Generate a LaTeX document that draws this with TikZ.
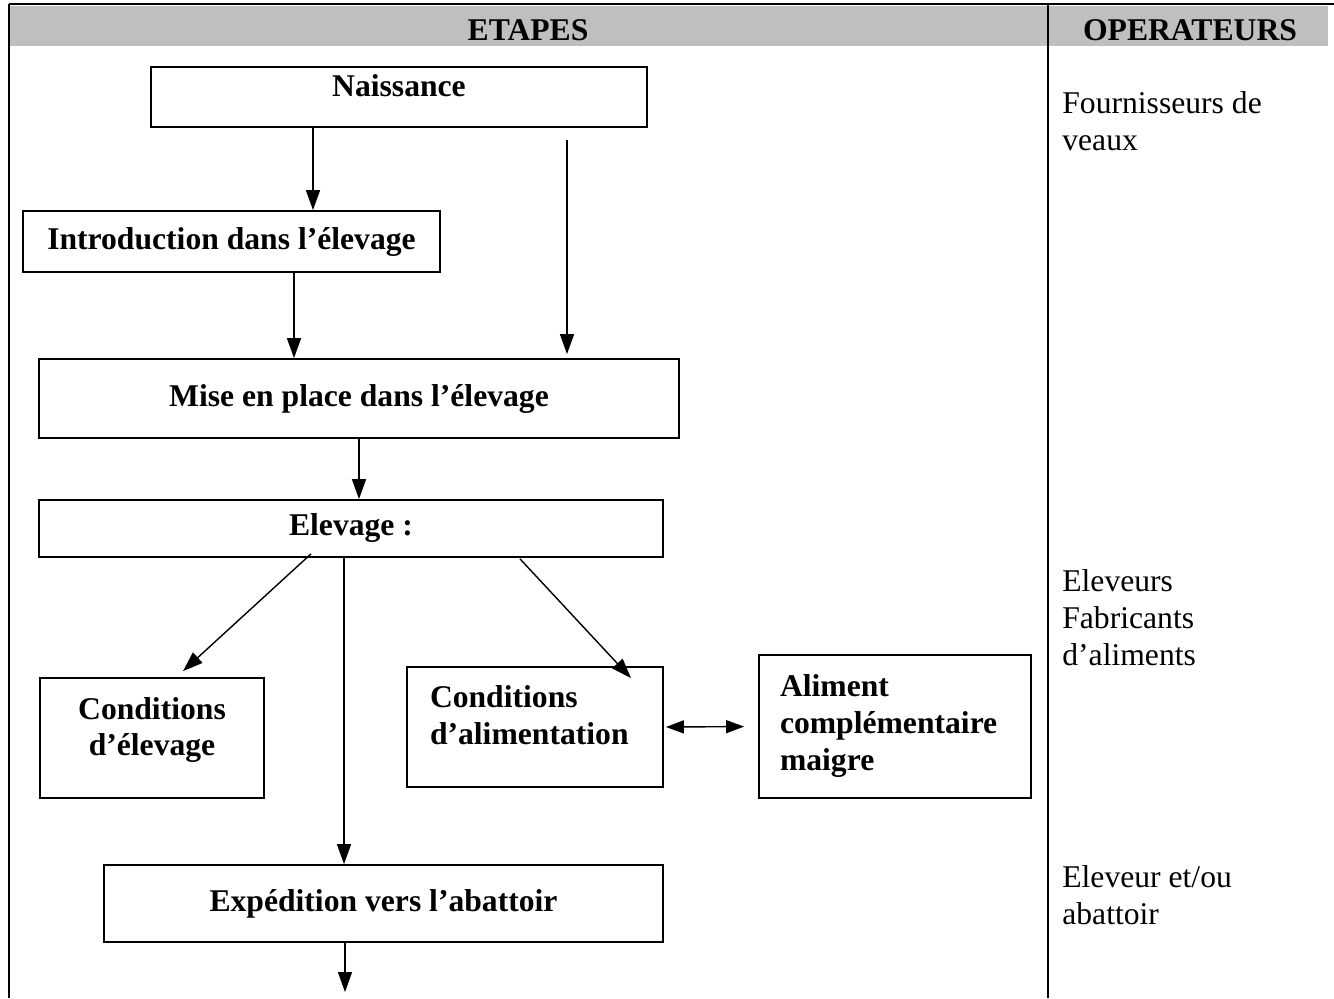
\documentclass[tikz,border=0pt]{standalone}
\usepackage{fontspec}
\setmainfont{Liberation Serif}
\usepackage{tikz}
\usetikzlibrary{arrows.meta}

\begin{document}
\begin{tikzpicture}[
    x=0.2mm, y=-0.2mm,
    font=\fontsize{18}{21}\selectfont,
    box/.style={draw, line width=1pt, align=center, inner sep=0pt, font=\fontsize{18}{21}\selectfont\bfseries},
    lbox/.style={box, align=left},
    arr/.style={-{Triangle[length=4mm,width=2.8mm]}, line width=0.8pt},
    biarr/.style={{Triangle[length=3.6mm,width=2.6mm]}-{Triangle[length=3.6mm,width=2.6mm]}, line width=0.8pt},
    oper/.style={anchor=north west, align=left, inner sep=0pt},
    head/.style={font=\fontsize{18}{21}\selectfont\bfseries},
    rule/.style={line width=1.3pt}
  ]
  \useasboundingbox (0,0) rectangle (1334,998);
  % table: header band and column rules
  \fill[gray!50] (10,6) rectangle (1328,46);
  \draw[rule] (9,4) -- (1334,4);
  \draw[rule] (9,4) -- (9,998);
  \draw[rule] (1048,4) -- (1048,998);
  \node[head] (etapes) at (528,30) {ETAPES};
  \node[head] (operat) at (1190,30) {OPERATEURS};
  % steps
  \node[box, minimum width=99.2mm, minimum height=12mm, text depth=4.4mm] (naiss) at (399,97) {Naissance};
  \node[box, minimum width=83.4mm, minimum height=12.2mm] (intro) at (231.5,241.5) {Introduction dans l'élevage};
  \node[box, minimum width=128mm, minimum height=15.8mm] (mise) at (359,398.5) {Mise en place dans l'élevage};
  \node[box, minimum width=124.8mm, minimum height=11.4mm] (elev) at (351,528.5) {Elevage :};
  \node[box, minimum width=44.8mm, minimum height=24mm, text depth=4.6mm] (celev) at (152,738) {Conditions\\d'élevage};
  \node[lbox, text width=42mm, inner xsep=4.6mm, minimum height=24mm, text depth=12.2mm] (calim) at (535,727) {Conditions\\d'alimentation};
  \node[lbox, text width=46mm, inner xsep=4.2mm, minimum height=28.6mm, text depth=16.2mm] (alim) at (895,726.5) {Aliment\\complémentaire\\maigre};
  \node[box, minimum width=111.8mm, minimum height=15.4mm] (exped) at (383.5,903.5) {Expédition vers l'abattoir};
  % operators
  \node[oper] (fourn) at (1062,91) {Fournisseurs de\\veaux};
  \node[oper] (eleveurs) at (1062,569) {Eleveurs\\Fabricants\\d'aliments};
  \node[oper] (abatt) at (1062,865) {Eleveur et/ou\\abattoir};
  % connectors
  \coordinate (drop) at (567,140);
  \coordinate (sortie) at (345,992);
  \draw[arr] ([xshift=-17.2mm]naiss.south) -- ([xshift=-17.2mm]naiss.south |- intro.north);
  \draw[arr, shorten >=0.8mm] (drop) -- (drop |- mise.north);
  \draw[arr] ([xshift=12.5mm]intro.south) -- ([xshift=12.5mm]intro.south |- mise.north);
  \draw[arr] (mise.south) -- (mise.south |- elev.north);
  \draw[arr] ([xshift=-8mm,yshift=0.8mm]elev.south) -- ([xshift=6.2mm,yshift=1.2mm]celev.north);
  \draw[arr] ([xshift=-1.4mm]elev.south) -- ([xshift=-1.4mm]elev.south |- exped.north);
  \draw[arr] ([xshift=33.8mm,yshift=-0.2mm]elev.south) -- ([xshift=19.2mm,yshift=-2.4mm]calim.north);
  \draw[biarr, shorten <=0.4mm, shorten >=2.8mm] (calim.east) -- (alim.west);
  \draw[arr] (exped.south -| sortie) -- (sortie);
\end{tikzpicture}
\end{document}
